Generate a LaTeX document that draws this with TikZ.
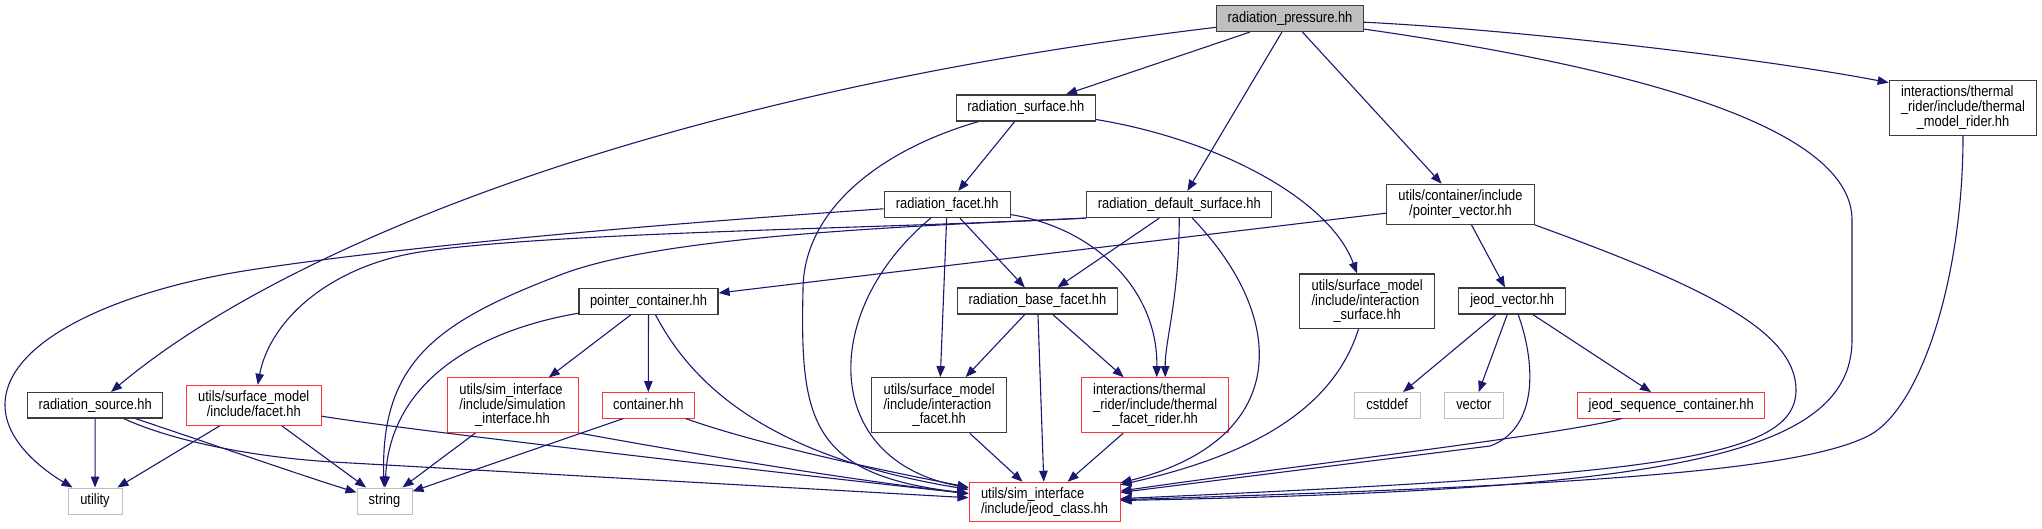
\documentclass[tikz,border=0pt]{standalone}
\usepackage{fontspec}
\newfontfamily\nodefont{Liberation Sans}[FakeStretch=0.86]
\usetikzlibrary{arrows.meta,calc}
\definecolor{edgeblue}{RGB}{25,25,112}
\definecolor{boxline}{RGB}{60,60,60}
\definecolor{rootfill}{RGB}{191,191,191}
\definecolor{redline}{RGB}{255,50,50}
\definecolor{sysline}{RGB}{191,191,191}
\newcommand\mst{\vrule height 11pt depth 3.4pt width 0pt}
\tikzset{
  box/.style={draw=boxline, line width=1.2pt, inner sep=0pt, align=center,
    font=\nodefont\fontsize{15}{14.6}\selectfont},
  rootbox/.style={box, fill=rootfill},
  redbox/.style={box, draw=redline, line width=1pt},
  sysbox/.style={box, draw=sysline, line width=1pt},
  edge/.style={draw=edgeblue, line width=1.1pt, -{Triangle[length=11pt,width=8.5pt]}},
}
\begin{document}
\begin{tikzpicture}[x=1pt,y=-1pt]
\fill[white] (0,0) rectangle (2042,528);
\useasboundingbox (0,0) rectangle (2042,528);
% nodes
\node[rootbox, minimum width=147pt, minimum height=26pt] (rp) at (1290,18.5) {\mst radiation\_pressure.hh};
\node[box, minimum width=139pt, minimum height=26pt] (rs) at (1025.8,107.9) {\mst radiation\_surface.hh};
\node[box, minimum width=126pt, minimum height=26pt] (rf) at (947.2,204.5) {\mst radiation\_facet.hh};
\node[box, minimum width=185pt, minimum height=26pt] (rds) at (1179.3,204.5) {\mst radiation\_default\_surface.hh};
\node[box, minimum width=147.5pt, minimum height=40pt] (pv) at (1460.5,204.3) {\mst utils/container/include\\\mst /pointer\_vector.hh};
\node[box, minimum width=147.5pt, minimum height=55pt] (tmr) at (1963,107.7) {\mst\rlap{interactions/thermal}\hphantom{\_rider/include/thermal}\\\mst \_rider/include/thermal\\\mst \_model\_rider.hh};
\node[box, minimum width=139pt, minimum height=26pt] (pc) at (648.5,301.3) {\mst pointer\_container.hh};
\node[box, minimum width=160.5pt, minimum height=26pt] (rbf) at (1037.5,301) {\mst radiation\_base\_facet.hh};
\node[box, minimum width=135pt, minimum height=54.5pt] (isurf) at (1367.2,301.2) {\mst utils/surface\_model\\\mst\rlap{/include/interaction}\hphantom{utils/surface\_model}\\\mst \_surface.hh};
\node[box, minimum width=107pt, minimum height=26pt] (jv) at (1512.2,301) {\mst jeod\_vector.hh};
\node[box, minimum width=135pt, minimum height=25.5pt] (rsrc) at (95.2,405.3) {\mst radiation\_source.hh};
\node[redbox, minimum width=134.5pt, minimum height=40pt] (facet) at (253.8,405.3) {\mst utils/surface\_model\\\mst /include/facet.hh};
\node[redbox, minimum width=131pt, minimum height=54.5pt] (simi) at (512.5,405.2) {\mst\rlap{utils/sim\_interface}\hphantom{/include/simulation}\\\mst /include/simulation\\\mst \_interface.hh};
\node[redbox, minimum width=92pt, minimum height=25.5pt] (cont) at (648.3,405.3) {\mst container.hh};
\node[box, minimum width=135pt, minimum height=55pt] (ifacet) at (939.2,405.2) {\mst utils/surface\_model\\\mst\rlap{/include/interaction}\hphantom{utils/surface\_model}\\\mst \_facet.hh};
\node[redbox, minimum width=147pt, minimum height=55pt] (tfr) at (1155.2,405.2) {\mst\rlap{interactions/thermal}\hphantom{\_rider/include/thermal}\\\mst \_rider/include/thermal\\\mst \_facet\_rider.hh};
\node[sysbox, minimum width=65.7pt, minimum height=25.5pt] (cstd) at (1387.2,405.3) {\mst cstddef};
\node[sysbox, minimum width=59pt, minimum height=25.5pt] (vec) at (1473.8,405.3) {\mst vector};
\node[redbox, minimum width=187pt, minimum height=25.5pt] (jsc) at (1671.2,405.3) {\mst jeod\_sequence\_container.hh};
\node[sysbox, minimum width=54pt, minimum height=26pt] (util) at (95,501) {\mst utility};
\node[sysbox, minimum width=55pt, minimum height=26pt] (str) at (384.5,501) {\mst string};
\node[redbox, minimum width=151pt, minimum height=39.5pt] (jc) at (1044.5,502) {\mst\rlap{utils/sim\_interface}\hphantom{/include/jeod\_class.hh}\\\mst /include/jeod\_class.hh};
% edges from radiation_pressure
\draw[edge] (rp) -- (rs);
\draw[edge] (rp) -- (rds);
\draw[edge] (rp) -- (pv);
\draw[edge] (rp) .. controls (1520,30) and (1760,58) .. ($(tmr.north west)+(0,3)$);
\draw[edge] (rp) .. controls (1650,70) and (1852,130) .. (1852,220) -- (1852,340) .. controls (1852,460) and (1650,490) .. (jc);
\draw[edge] (rp) .. controls (650,95) and (280,250) .. (rsrc);
% radiation_surface
\draw[edge] (rs) -- (rf);
\draw[edge] (rs) .. controls (1220,140) and (1330,200) .. (isurf);
\draw[edge] (rs) .. controls (880,150) and (803,210) .. (803,290) .. controls (800,420) and (810,475) .. (jc);
% radiation_facet
\draw[edge] (rf) -- (rbf);
\draw[edge] (rf) -- (ifacet);
\draw[edge] (rf) .. controls (1095,228) and (1158,290) .. ($(tfr.north)+(1.5,0)$);
\draw[edge] (rf) .. controls (820,310) and (820,460) .. (jc);
\draw[edge] (rf) .. controls (600,228) and (380,250) .. (250,270) .. controls (120,290) and (5,340) .. (5,405) .. controls (5,440) and (40,468) .. (util);
% radiation_default_surface
\draw[edge] (rds) -- (rbf);
\draw[edge] (rds) .. controls (1179,300) and (1165,340) .. ($(tfr.north)+(10,0)$);
\draw[edge] (rds) .. controls (1290,320) and (1290,440) .. (jc);
\draw[edge] (rds.south west) .. controls (900,228) and (550,232) .. (420,252) .. controls (330,266) and (270,320) .. (facet);
\draw[edge] (rds.south west) .. controls (850,228) and (650,240) .. (560,275) .. controls (440,321) and (380,360) .. (str);
% pointer_vector
\draw[edge] (pv) -- (pc);
\draw[edge] (pv) -- (jv);
\draw[edge] (pv.south east) .. controls (1700,285) and (1796,330) .. (1796,390) .. controls (1796,460) and (1650,475) .. (jc);
% thermal_model_rider
\draw[edge] (tmr) .. controls (1963,280) and (1920,410) .. (1868,436) .. controls (1800,470) and (1600,485) .. (jc);
% pointer_container
\draw[edge] (pc) -- (simi);
\draw[edge] (pc) -- (cont);
\draw[edge] (pc) .. controls (700,400) and (790,460) .. (jc);
\draw[edge] (pc) .. controls (480,330) and (390,380) .. (str);
% radiation_base_facet
\draw[edge] (rbf) -- (ifacet);
\draw[edge] (rbf) -- (tfr);
\draw[edge] (rbf) -- (jc);
% interaction_surface
\draw[edge] (isurf) .. controls (1330,420) and (1230,460) .. (jc);
% jeod_vector
\draw[edge] (jv) -- (cstd);
\draw[edge] (jv) -- (vec);
\draw[edge] (jv) -- (jsc);
\draw[edge] ($(jv.south)+(6,0)$) .. controls (1538,370) and (1535,430) .. (1490,446) -- (jc);
% jeod_sequence_container
\draw[edge] (jsc) .. controls (1560,435) and (1300,465) .. (jc);
% radiation_source
\draw[edge] (rsrc) -- (util);
\draw[edge] (rsrc) .. controls (200,440) and (300,475) .. (str);
\draw[edge] (rsrc) .. controls (170,440) and (250,457) .. (333,462) -- (jc);
% facet
\draw[edge] (facet) -- (util);
\draw[edge] (facet) -- (str);
\draw[edge] (facet) .. controls (420,432) and (800,475) .. (jc);
% simulation_interface
\draw[edge] (simi) -- (str);
\draw[edge] (simi.south east) .. controls (700,455) and (850,480) .. (jc);
% container
\draw[edge] ($(cont.south)+(-25,0)$) -- (str);
\draw[edge] (cont) .. controls (760,445) and (880,470) .. (jc);
% interaction_facet, thermal_facet_rider
\draw[edge] (ifacet) -- (jc);
\draw[edge] (tfr) -- (jc);
\end{tikzpicture}
\end{document}
